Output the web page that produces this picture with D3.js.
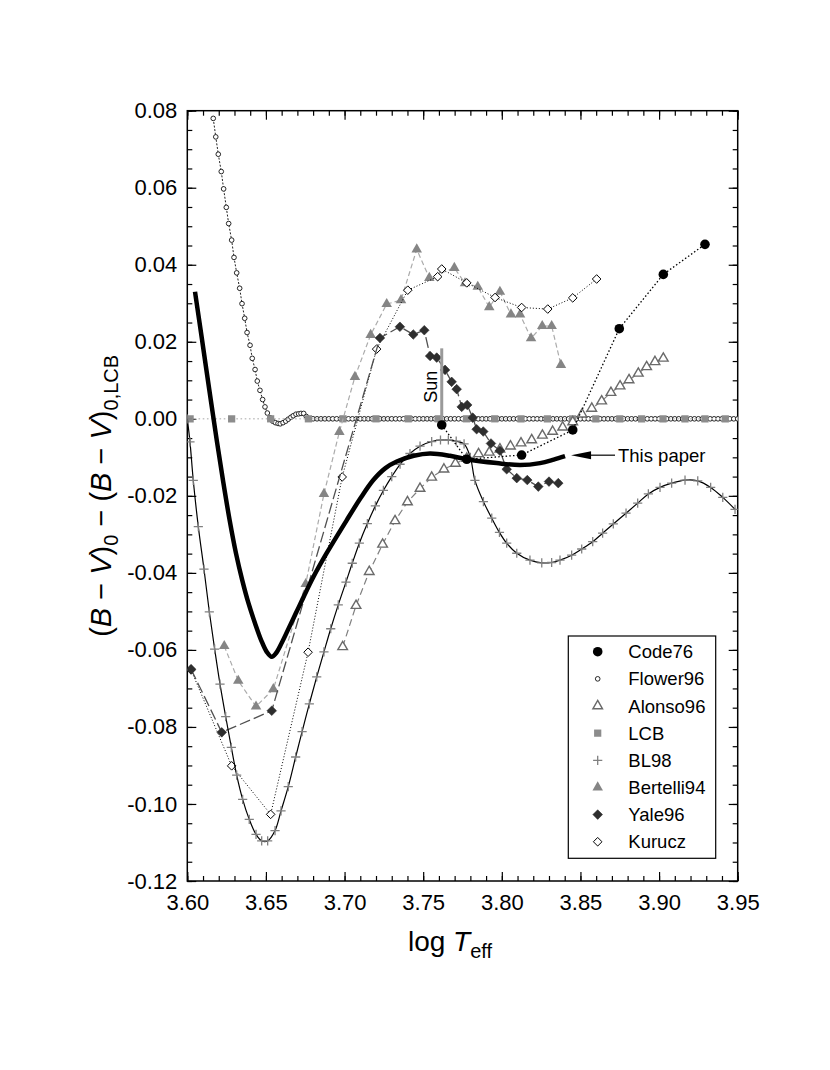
<!DOCTYPE html>
<html>
<head>
<meta charset="utf-8">
<script src="https://cdn.jsdelivr.net/npm/d3@7"></script>
<style>
  html, body { margin: 0; padding: 0; background: #fff; }
  svg { display: block; font-family: 'Liberation Sans', Arial, sans-serif; }
</style>
</head>
<body>
<div id="chart"></div>
<script>
// [log Teff, (B-V)0 - (B-V)0,LCB] pairs
const code76 = [[3.7618, -0.0016], [3.7777, -0.0105], [3.8126, -0.0094], [3.8451, -0.0029],
  [3.8747, 0.0234], [3.9027, 0.0375], [3.9292, 0.0453]];

const flower96 = [[3.6165, 0.0780], [3.6181, 0.0732], [3.6197, 0.0687], [3.6216, 0.0642],
  [3.6231, 0.0597], [3.6248, 0.0549], [3.6263, 0.0507], [3.6282, 0.0464], [3.6297, 0.0419],
  [3.6314, 0.0379], [3.6333, 0.0339], [3.6348, 0.0299], [3.6365, 0.0261], [3.6380, 0.0224],
  [3.6399, 0.0191], [3.6413, 0.0157], [3.6431, 0.0128], [3.6445, 0.0098], [3.6462, 0.0074],
  [3.6479, 0.0050], [3.6494, 0.0031], [3.6509, 0.0015], [3.6526, 0.0003], [3.6543, -0.0006],
  [3.6560, -0.0010], [3.6577, -0.0012], [3.6591, -0.0013], [3.6609, -0.0010], [3.6626, -0.0006],
  [3.6642, -0.0001], [3.6659, 0.0004], [3.6674, 0.0008], [3.6691, 0.0012], [3.6708, 0.0013],
  [3.6723, 0.0014], [3.6740, 0.0014], [3.6757, 0.0006], [3.6772, 0.0000]];
// beyond 3.678 Flower96 sits on the LCB zero line
const flower96TailT = [3.680, 3.6825, 3.685, 3.6875, 3.690, 3.6925, 3.695, 3.6975, 3.700, 3.7025,
  3.705, 3.7075, 3.710, 3.7125, 3.715, 3.7175, 3.720, 3.7225, 3.725, 3.7275, 3.730, 3.7325, 3.735,
  3.7375, 3.740, 3.7425, 3.745, 3.7475, 3.750, 3.7525, 3.755, 3.7575, 3.760, 3.7625, 3.765, 3.7675,
  3.770, 3.7725, 3.775, 3.7775, 3.780, 3.7825, 3.785, 3.7875, 3.790, 3.7925, 3.795, 3.7975, 3.800,
  3.8025, 3.805, 3.8075, 3.810, 3.8125, 3.815, 3.8175, 3.820, 3.8225, 3.825, 3.8275, 3.830, 3.8325,
  3.835, 3.8375, 3.840, 3.8425, 3.845, 3.8475, 3.850, 3.8525, 3.855, 3.8575, 3.860, 3.8625, 3.865,
  3.8675, 3.870, 3.8725, 3.875, 3.8775, 3.880, 3.8825, 3.885, 3.8875, 3.890, 3.8925, 3.895, 3.8975,
  3.900, 3.9025, 3.905, 3.9075, 3.910, 3.9125, 3.915, 3.9175, 3.920, 3.9225, 3.925, 3.9275, 3.930,
  3.9325, 3.935, 3.9375, 3.940, 3.9425, 3.945, 3.9475, 3.950];

const alonso96 = [[3.6988, -0.0592], [3.7073, -0.0485], [3.7157, -0.0397], [3.7242, -0.0326],
  [3.7321, -0.0265], [3.7400, -0.0216], [3.7480, -0.0181], [3.7554, -0.0152], [3.7632, -0.0131],
  [3.7705, -0.0116], [3.7777, -0.0103], [3.7852, -0.0091], [3.7920, -0.0087], [3.7988, -0.0079],
  [3.8055, -0.0071], [3.8122, -0.0063], [3.8190, -0.0055], [3.8258, -0.0043], [3.8323, -0.0033],
  [3.8387, -0.0022], [3.8451, -0.0008], [3.8510, 0.0012], [3.8572, 0.0027], [3.8635, 0.0046],
  [3.8694, 0.0068], [3.8752, 0.0085], [3.8809, 0.0101], [3.8868, 0.0118], [3.8921, 0.0135],
  [3.8974, 0.0148], [3.9027, 0.0157]];

const lcb = [[3.6018, 0], [3.6282, 0], [3.6530, 0], [3.6770, 0], [3.6990, 0], [3.7200, 0],
  [3.7405, 0], [3.7596, 0], [3.7775, 0], [3.7955, 0], [3.8122, 0], [3.8290, 0], [3.8450, 0],
  [3.8598, 0], [3.8750, 0], [3.8889, 0], [3.9025, 0], [3.9165, 0], [3.9292, 0], [3.9421, 0]];

const bl98 = [[3.6000, 0.0000], [3.6017, -0.0060], [3.6038, -0.0160], [3.6070, -0.0280],
  [3.6106, -0.0390], [3.6140, -0.0501], [3.6174, -0.0598], [3.6208, -0.0689], [3.6244, -0.0773],
  [3.6280, -0.0853], [3.6314, -0.0925], [3.6352, -0.0988], [3.6394, -0.1040], [3.6437, -0.1079],
  [3.6473, -0.1096], [3.6511, -0.1096], [3.6558, -0.1069], [3.6596, -0.1018], [3.6642, -0.0955],
  [3.6689, -0.0878], [3.6730, -0.0812], [3.6776, -0.0740], [3.6823, -0.0670], [3.6869, -0.0605],
  [3.6912, -0.0545], [3.6960, -0.0483], [3.7009, -0.0424], [3.7049, -0.0375], [3.7094, -0.0323],
  [3.7145, -0.0272], [3.7196, -0.0226], [3.7247, -0.0186], [3.7300, -0.0150], [3.7353, -0.0118],
  [3.7416, -0.0090], [3.7480, -0.0071], [3.7554, -0.0059], [3.7610, -0.0055], [3.7660, -0.0055],
  [3.7710, -0.0058], [3.7760, -0.0065], [3.7800, -0.0100], [3.7829, -0.0160], [3.7883, -0.0215],
  [3.7936, -0.0258], [3.7985, -0.0295], [3.8031, -0.0323], [3.8095, -0.0349], [3.8179, -0.0367],
  [3.8254, -0.0374], [3.8317, -0.0373], [3.8370, -0.0367], [3.8444, -0.0354], [3.8508, -0.0338],
  [3.8578, -0.0319], [3.8641, -0.0297], [3.8709, -0.0273], [3.8790, -0.0245], [3.8864, -0.0219],
  [3.8932, -0.0195], [3.9006, -0.0178], [3.9080, -0.0167], [3.9165, -0.0159], [3.9246, -0.0161],
  [3.9328, -0.0178], [3.9405, -0.0204], [3.9483, -0.0235]];

const bertelli94 = [[3.6235, -0.0590], [3.6324, -0.0680], [3.6437, -0.0747], [3.6547, -0.0702],
  [3.6753, -0.0429], [3.6869, -0.0195], [3.6967, -0.0034], [3.7066, 0.0109], [3.7166, 0.0218],
  [3.7268, 0.0298], [3.7359, 0.0308], [3.7459, 0.0440], [3.7539, 0.0366], [3.7698, 0.0392],
  [3.7766, 0.0352], [3.7847, 0.0343], [3.7920, 0.0290], [3.7988, 0.0330], [3.8058, 0.0271],
  [3.8116, 0.0271], [3.8186, 0.0209], [3.8257, 0.0241], [3.8317, 0.0241], [3.8376, 0.0140]];

const yale96 = [[3.6024, -0.0650], [3.6219, -0.0814], [3.6537, -0.0758], [3.7225, 0.0210],
  [3.7352, 0.0239], [3.7437, 0.0219], [3.7507, 0.0230], [3.7544, 0.0163], [3.7586, 0.0159],
  [3.7639, 0.0127], [3.7681, 0.0096], [3.7713, 0.0077], [3.7745, 0.0031], [3.7780, 0.0036],
  [3.7815, 0.0003], [3.7840, -0.0027], [3.7882, -0.0033], [3.7931, -0.0064], [3.7988, -0.0083],
  [3.8031, -0.0131], [3.8095, -0.0154], [3.8162, -0.0159], [3.8232, -0.0176], [3.8300, -0.0163],
  [3.8359, -0.0167]];

const kurucz = [[3.6024, -0.0652], [3.6282, -0.0901], [3.6530, -0.1027], [3.6768, -0.0606],
  [3.6985, -0.0151], [3.7204, 0.0181], [3.7402, 0.0334], [3.7592, 0.0369], [3.7618, 0.0389],
  [3.7777, 0.0353], [3.7957, 0.0315], [3.8126, 0.0289], [3.8292, 0.0285], [3.8451, 0.0314],
  [3.8603, 0.0363]];

const thisPaper = [[3.6049, 0.0330], [3.6092, 0.0210], [3.6140, 0.0075], [3.6187, -0.0055],
  [3.6229, -0.0165], [3.6270, -0.0265], [3.6310, -0.0350], [3.6350, -0.0420], [3.6390, -0.0480],
  [3.6430, -0.0530], [3.6470, -0.0575], [3.6505, -0.0605], [3.6537, -0.0618], [3.6565, -0.0608],
  [3.6600, -0.0582], [3.6640, -0.0548], [3.6690, -0.0505], [3.6740, -0.0462], [3.6800, -0.0412],
  [3.6886, -0.0349], [3.7014, -0.0263], [3.7100, -0.0207], [3.7183, -0.0159], [3.7260, -0.0128],
  [3.7332, -0.0111], [3.7440, -0.0096], [3.7543, -0.0090], [3.7671, -0.0096], [3.7777, -0.0105],
  [3.7967, -0.0115], [3.8116, -0.0120], [3.8243, -0.0115], [3.8330, -0.0106], [3.8402, -0.0097]];

// the Sun: log Teff and the span of its grey bar
const sunT = 3.7618;
const sunSpan = [-0.0016, 0.0183];

const xTicks = [3.60, 3.65, 3.70, 3.75, 3.80, 3.85, 3.90, 3.95];
const yTicks = [-0.12, -0.10, -0.08, -0.06, -0.04, -0.02, 0.00, 0.02, 0.04, 0.06, 0.08];
const legendNames = ['Code76', 'Flower96', 'Alonso96', 'LCB', 'BL98', 'Bertelli94', 'Yale96', 'Kurucz'];

// marker shapes
const symbolPath = (type, size) => d3.symbol().type(type).size(size)();
const diamond = r => `M0,${-r}L${r},0L0,${r}L${-r},0Z`;
const plus = r => `M${-r},0H${r}M0,${-r}V${r}`;

const width = 830;
const height = 1070;
const marginLeft = 187.3;
const marginRight = 830 - 737.7;
const marginTop = 110.7;
const marginBottom = 1070 - 881;

const scaleX = d3.scaleLinear().domain([3.60, 3.95]).range([marginLeft, width - marginRight]);
const scaleY = d3.scaleLinear().domain([-0.12, 0.08]).range([height - marginBottom, marginTop]);

const series = {
    Code76: { data: code76, stroke: '#000', width: 1.3, dash: '1.5,2.2',
        marker: symbolPath(d3.symbolCircle, 72), fill: '#000', mStroke: 'none' },
    Flower96: { data: flower96.concat(flower96TailT.map(t => [t, 0])), stroke: '#222', width: 1, dash: '2,1.6',
        marker: symbolPath(d3.symbolCircle, 17), fill: '#fff', mStroke: '#111', mWidth: 0.9 },
    Alonso96: { data: alonso96, stroke: '#808080', width: 1.2, dash: '7,4',
        marker: symbolPath(d3.symbolTriangle, 40), fill: '#fff', mStroke: '#6a6a6a', mWidth: 1.4 },
    LCB: { data: lcb, stroke: '#c4c4c4', width: 1.6, dash: '1.6,2.6',
        marker: symbolPath(d3.symbolSquare, 52), fill: '#8c8c8c', mStroke: 'none' },
    BL98: { data: bl98, stroke: '#000', width: 1.2, dash: null, curve: d3.curveCatmullRom,
        marker: plus(4.6), fill: 'none', mStroke: '#808080', mWidth: 1.3 },
    Bertelli94: { data: bertelli94, stroke: '#ababab', width: 1.2, dash: '5,3',
        marker: symbolPath(d3.symbolTriangle, 48), fill: '#858585', mStroke: 'none' },
    Yale96: { data: yale96, stroke: '#505050', width: 1.3, dash: '11,4',
        marker: diamond(4.8), fill: '#2e2e2e', mStroke: '#2e2e2e', mWidth: 0.6 },
    Kurucz: { data: kurucz, stroke: '#000', width: 1, dash: '1,2',
        marker: diamond(4.3), fill: '#fff', mStroke: '#000', mWidth: 1 },
};
const drawOrder = ['Flower96', 'LCB', 'Bertelli94', 'Alonso96', 'Kurucz', 'Yale96', 'BL98'];

const $svg = d3.select('#chart').append('svg')
    .attr('width', width)
    .attr('height', height);

$svg.append('defs').append('clipPath').attr('id', 'plot-clip')
    .append('rect')
    .attr('x', marginLeft).attr('y', marginTop)
    .attr('width', width - marginLeft - marginRight)
    .attr('height', height - marginTop - marginBottom);

const $axes = $svg.append('g').attr('class', 'g-axis');
const $vis = $svg.append('g').attr('class', 'g-vis').attr('clip-path', 'url(#plot-clip)');

function styleAxis(g) {
    g.select('.domain').remove();
    g.selectAll('line').attr('stroke', '#000').attr('stroke-width', 1.2);
    g.selectAll('text').attr('fill', '#000').attr('font-size', 22).attr('font-family', null);
}

function drawAxes() {
    const fmt = d => d.toFixed(2);
    const bottom = height - marginBottom;
    const right = width - marginRight;

    // minor ticks first, labelled majors on top
    $axes.append('g').attr('transform', `translate(0,${bottom})`)
        .call(d3.axisBottom(scaleX).ticks(35).tickFormat('').tickSize(-5)).call(styleAxis);
    $axes.append('g').attr('transform', `translate(0,${marginTop})`)
        .call(d3.axisTop(scaleX).ticks(35).tickFormat('').tickSize(-5)).call(styleAxis);
    $axes.append('g').attr('transform', `translate(${marginLeft},0)`)
        .call(d3.axisLeft(scaleY).ticks(40).tickFormat('').tickSize(-5)).call(styleAxis);
    $axes.append('g').attr('transform', `translate(${right},0)`)
        .call(d3.axisRight(scaleY).ticks(40).tickFormat('').tickSize(-5)).call(styleAxis);

    $axes.append('g').attr('transform', `translate(0,${bottom})`)
        .call(d3.axisBottom(scaleX).tickValues(xTicks).tickFormat(fmt).tickSize(-9).tickPadding(13))
        .call(styleAxis);
    $axes.append('g').attr('transform', `translate(0,${marginTop})`)
        .call(d3.axisTop(scaleX).tickValues(xTicks).tickFormat('').tickSize(-9)).call(styleAxis);
    $axes.append('g').attr('transform', `translate(${marginLeft},0)`)
        .call(d3.axisLeft(scaleY).tickValues(yTicks).tickFormat(fmt).tickSize(-9).tickPadding(10))
        .call(styleAxis);
    $axes.append('g').attr('transform', `translate(${right},0)`)
        .call(d3.axisRight(scaleY).tickValues(yTicks).tickFormat('').tickSize(-9)).call(styleAxis);

    $axes.append('rect')
        .attr('x', marginLeft).attr('y', marginTop)
        .attr('width', right - marginLeft).attr('height', bottom - marginTop)
        .attr('fill', 'none').attr('stroke', '#000').attr('stroke-width', 1.5);

    // x title: log Teff
    const $xt = $svg.append('text')
        .attr('x', 450).attr('y', 951)
        .attr('text-anchor', 'middle')
        .attr('font-size', 28);
    $xt.append('tspan').text('log ');
    $xt.append('tspan').attr('font-style', 'italic').text('T');
    $xt.append('tspan').attr('font-size', 20).attr('dy', 7).text('eff');

    // y title: (B - V)0 - (B - V)0,LCB
    const $yt = $svg.append('text')
        .attr('transform', `translate(111,${(marginTop + bottom) / 2}) rotate(-90)`)
        .attr('text-anchor', 'middle')
        .attr('font-size', 29);
    const parts = [['(', 0], ['B', 1], [' \u2212 ', 0], ['V', 1], [')', 0], ['0', 2],
        [' \u2212 (', 3], ['B', 1], [' \u2212 ', 0], ['V', 1], [')', 0], ['0,LCB', 2]];
    parts.forEach(([t, k]) => {
        const $t = $yt.append('tspan').text(t);
        if (k === 1) $t.attr('font-style', 'italic');
        if (k === 2) $t.attr('font-size', 20).attr('dy', 7);
        if (k === 3) $t.attr('dy', -7);
    });
}

function drawSeries(name) {
    const s = series[name];
    const line = d3.line()
        .x(d => scaleX(d[0]))
        .y(d => scaleY(d[1]))
        .curve(s.curve || d3.curveLinear);

    $vis.append('path')
        .datum(s.data)
        .attr('d', line)
        .attr('fill', 'none')
        .attr('stroke', s.stroke)
        .attr('stroke-width', s.width)
        .attr('stroke-dasharray', s.dash);

    $vis.append('g').attr('class', `marks-${name}`)
        .selectAll('path')
        .data(s.data)
        .join('path')
        .attr('transform', d => `translate(${scaleX(d[0])},${scaleY(d[1])})`)
        .attr('d', s.marker)
        .attr('fill', s.fill)
        .attr('stroke', s.mStroke)
        .attr('stroke-width', s.mWidth || 1);
}

function drawThisPaper() {
    const line = d3.line()
        .x(d => scaleX(d[0]))
        .y(d => scaleY(d[1]))
        .curve(d3.curveCatmullRom);
    $vis.append('path')
        .datum(thisPaper)
        .attr('d', line)
        .attr('fill', 'none')
        .attr('stroke', '#000')
        .attr('stroke-width', 4.5)
        .attr('stroke-linejoin', 'round');

    // arrow + label
    const last = thisPaper[thisPaper.length - 1];
    const tipX = scaleX(last[0]) + 6;
    const tipY = scaleY(last[1]) - 1;
    $svg.append('line')
        .attr('x1', tipX + 18).attr('y1', tipY)
        .attr('x2', tipX + 44).attr('y2', tipY)
        .attr('stroke', '#000').attr('stroke-width', 1.2);
    $svg.append('path')
        .attr('d', `M${tipX},${tipY}L${tipX + 20},${tipY - 4}L${tipX + 20},${tipY + 4}Z`)
        .attr('fill', '#000');
    $svg.append('text')
        .attr('x', tipX + 47).attr('y', tipY + 6.5)
        .attr('font-size', 18.5)
        .text('This paper');
}

function drawSun() {
    const x = scaleX(sunT);
    $vis.append('line')
        .attr('x1', x).attr('x2', x)
        .attr('y1', scaleY(sunSpan[0])).attr('y2', scaleY(sunSpan[1]))
        .attr('stroke', '#9a9a9a').attr('stroke-width', 3);
    $svg.append('text')
        .attr('transform', `translate(${x - 5},${scaleY(0.0083)}) rotate(-90)`)
        .attr('text-anchor', 'middle')
        .attr('font-size', 18)
        .text('Sun');
}

function drawLegend() {
    const $leg = $svg.append('g').attr('class', 'legend').attr('transform', 'translate(568.3,636)');
    $leg.append('rect')
        .attr('width', 147.4).attr('height', 222.3)
        .attr('fill', '#fff').attr('stroke', '#000').attr('stroke-width', 1.2);
    const $rows = $leg.selectAll('g.row')
        .data(legendNames)
        .join('g')
        .attr('class', 'row')
        .attr('transform', (d, i) => `translate(0,${15.7 + i * 27.15})`);
    $rows.append('path')
        .attr('transform', 'translate(29.4,0)')
        .attr('d', d => series[d].marker)
        .attr('fill', d => series[d].fill)
        .attr('stroke', d => series[d].mStroke)
        .attr('stroke-width', d => series[d].mWidth || 1);
    $rows.append('text')
        .attr('x', 60)
        .attr('y', 6.6)
        .attr('font-size', 18.5)
        .text(d => d);
}

drawAxes();
drawOrder.forEach(drawSeries);
drawThisPaper();
drawSun();
drawSeries('Code76');
drawLegend();
</script>
</body>
</html>
